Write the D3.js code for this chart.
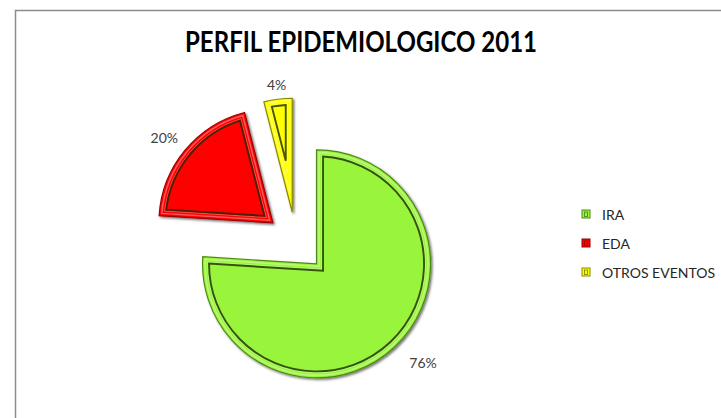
<html>
<head>
  <script src="https://d3js.org/d3.v7.min.js"></script>
  <style>
    body { margin: 0; background: #fff; }
    text { font-family: Lato, "Open Sans", sans-serif; }
  </style>
</head>
<body>
  <svg id="chart" width="721" height="418"></svg>
  <script>
    // data
    const categories = ["IRA", "EDA", "OTROS EVENTOS"];
    const values = [76, 20, 4];
    const labels = ["76%", "20%", "4%"];
    const colors = ["#99f53a", "#ff0000", "#ffff00"];
    const edgeColors = ["#4f8a12", "#9a0000", "#8a8a00"];
    const title = "PERFIL EPIDEMIOLOGICO 2011";

    const svg = d3.select("#chart");
    const width = +svg.attr("width");
    const height = +svg.attr("height");

    // chart area border (right/bottom fall outside the picture)
    svg.append("rect")
      .attr("x", 15.5).attr("y", 10.5)
      .attr("width", width + 10).attr("height", height + 10)
      .attr("fill", "#fff")
      .attr("stroke", "#8c8c8c")
      .attr("stroke-width", 1.5);

    svg.append("text")
      .attr("x", 361).attr("y", 52)
      .attr("text-anchor", "middle")
      .attr("font-size", 28)
      .attr("font-weight", "bold")
      .attr("fill", "#000")
      .attr("textLength", 352)
      .attr("lengthAdjust", "spacingAndGlyphs")
      .text(title);

    const cx = 296, cy = 242, radius = 114, explode = 30;

    const pie = d3.pie().sort(null).value(d => d);
    const arcs = pie(values);
    const arc = d3.arc().innerRadius(0).outerRadius(radius);

    const defs = svg.append("defs");
    const shadow = defs.append("filter").attr("id", "shadow")
      .attr("x", "-10%").attr("y", "-10%").attr("width", "130%").attr("height", "130%");
    shadow.append("feDropShadow")
      .attr("dx", 1.5).attr("dy", 1.5).attr("stdDeviation", 0.9)
      .attr("flood-color", "#000").attr("flood-opacity", 0.55);

    const g = svg.append("g").attr("transform", `translate(${cx},${cy})`);

    // inner outline of a slice, inset by d (bevel line)
    function insetPath(a, d) {
      const th = a.endAngle - a.startAngle;
      const m = (a.startAngle + a.endAngle) / 2;
      const v = d / Math.sin(th / 2);
      const rr = radius - d;
      const dl = Math.asin(d / rr);
      const p = (ang, r) => [r * Math.sin(ang), -r * Math.cos(ang)];
      const vx = p(m, v), p0 = p(a.startAngle + dl, rr), p1 = p(a.endAngle - dl, rr);
      const large = (a.endAngle - a.startAngle - 2 * dl) > Math.PI ? 1 : 0;
      return `M${vx}L${p0}A${rr},${rr} 0 ${large} 1 ${p1}Z`;
    }
    const insetD = (d, k, max) => Math.min(max, k * radius * Math.sin((d.endAngle - d.startAngle) / 2));

    const slices = g.selectAll("g.slice").data(arcs).join("g")
      .attr("class", "slice")
      .attr("transform", d => {
        const m = (d.startAngle + d.endAngle) / 2;
        return `translate(${explode * Math.sin(m)},${-explode * Math.cos(m)})`;
      });

    slices.append("path")
      .attr("d", arc)
      .attr("fill", (d, i) => colors[i])
      .attr("stroke", (d, i) => edgeColors[i])
      .attr("stroke-width", 1.2)
      .attr("filter", "url(#shadow)");

    // light band just inside the edge
    slices.append("path")
      .attr("d", d => insetPath(d, insetD(d, 0.25, 2.5)))
      .attr("fill", "none")
      .attr("stroke", "#fff")
      .attr("stroke-opacity", 0.35)
      .attr("stroke-width", 1.5);

    // highlight just outside the dark bevel line
    slices.append("path")
      .attr("d", d => insetPath(d, insetD(d, 0.5, 5)))
      .attr("fill", "none")
      .attr("stroke", "#fff")
      .attr("stroke-opacity", 0.3)
      .attr("stroke-width", 1);

    // dark inner bevel line
    slices.append("path")
      .attr("d", d => insetPath(d, insetD(d, 0.6, 6.5)))
      .attr("fill", "none")
      .attr("stroke", "#1b2a05")
      .attr("stroke-opacity", 0.8)
      .attr("stroke-width", 1.9);

    // data labels, outside end
    const lw = 15, lh = 6, gap = 12;
    g.selectAll("text.lbl").data(arcs).join("text")
      .attr("class", "lbl")
      .attr("text-anchor", "middle")
      .attr("dominant-baseline", "central")
      .attr("font-size", 14)
      .attr("fill", "#404040")
      .attr("x", d => {
        const m = (d.startAngle + d.endAngle) / 2, s = Math.sin(m);
        return (explode + radius + gap) * s + lw * s + (s > 0 ? 8 : 0) + (s < -0.5 ? 0 : 2);
      })
      .attr("y", d => {
        const m = (d.startAngle + d.endAngle) / 2, c = -Math.cos(m);
        return (explode + radius + gap) * c + lh * c + (c < -0.9 ? 4 : 0) + (c > 0 ? 2 : -1);
      })
      .text((d, i) => labels[i]);

    // legend
    const legend = svg.append("g").attr("transform", "translate(586,214)");
    const items = legend.selectAll("g").data(categories).join("g")
      .attr("transform", (d, i) => `translate(0,${i * 29})`);
    items.append("rect")
      .attr("x", -4).attr("y", -4).attr("width", 8).attr("height", 8)
      .attr("fill", (d, i) => colors[i])
      .attr("stroke", (d, i) => edgeColors[i])
      .attr("stroke-width", 1);
    items.append("rect")
      .attr("x", -1.5).attr("y", -2).attr("width", 3).attr("height", 4.5)
      .attr("fill", "none")
      .attr("stroke", "#1b2a05")
      .attr("stroke-opacity", 0.6)
      .attr("stroke-width", 0.8);
    items.append("text")
      .attr("x", 16).attr("y", 0)
      .attr("dominant-baseline", "central")
      .attr("font-size", 14)
      .attr("fill", "#262626")
      .text(d => d);
  </script>
</body>
</html>
